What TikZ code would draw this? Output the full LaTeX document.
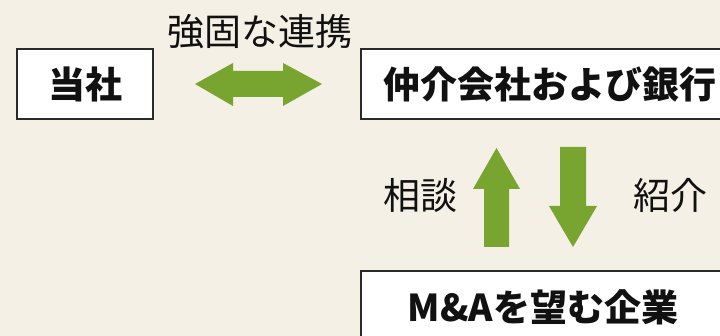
\documentclass[tikz,border=0pt]{standalone}
\usepackage{fontspec}
\setmainfont{Noto Sans CJK JP}
\begin{document}
\begin{tikzpicture}[x=1pt,y=-1pt,
  bgfill/.style={fill=bgc},
  boxnode/.style={draw=boxline,line width=1.2pt,fill=white,inner sep=0pt,
    font=\fontsize{37}{41}\selectfont\bfseries,text=txt},
  lbl/.style={inner sep=0pt,font=\fontsize{37}{41}\selectfont,text=txt},
  blockarrow/.style={fill=arrgreen,draw=none}]
\definecolor{bgc}{HTML}{F4F0E5}
\definecolor{boxline}{HTML}{2A2A2A}
\definecolor{arrgreen}{HTML}{78A530}
\definecolor{txt}{HTML}{111111}
\path[bgfill] (0,0) rectangle (720,336);
\useasboundingbox (0,0) rectangle (720,336);
\clip (0,0) rectangle (720,336);
% boxes
\node[boxnode,minimum width=136pt,minimum height=70pt] (tosha) at (85,84) {当社};
\node[boxnode,minimum width=378pt,minimum height=70pt] (chukai) at (550,84) {仲介会社および銀行};
\node[boxnode,minimum width=364pt,minimum height=72pt] (kigyo) at (543,307) {M\&Aを望む企業};
% labels
\node[lbl] (renkei) at (260,31.5) {強固な連携};
\node[lbl] (sodan) at (420,195) {相談};
\node[lbl] (shokai) at (670,195) {紹介};
% double arrow
\fill[blockarrow] (195,84) -- (233,63) -- (233,71) -- (283,71) -- (283,63) -- (322,84)
  -- (283,106) -- (283,97) -- (233,97) -- (233,106) -- cycle;
% up arrow
\fill[blockarrow] (496.5,148) -- (520,189) -- (509,189) -- (509,247) -- (484,247)
  -- (484,189) -- (473,189) -- cycle;
% down arrow
\fill[blockarrow] (560,147) -- (586,147) -- (586,206) -- (597,206) -- (573,247)
  -- (549,206) -- (560,206) -- cycle;
\end{tikzpicture}
\end{document}
